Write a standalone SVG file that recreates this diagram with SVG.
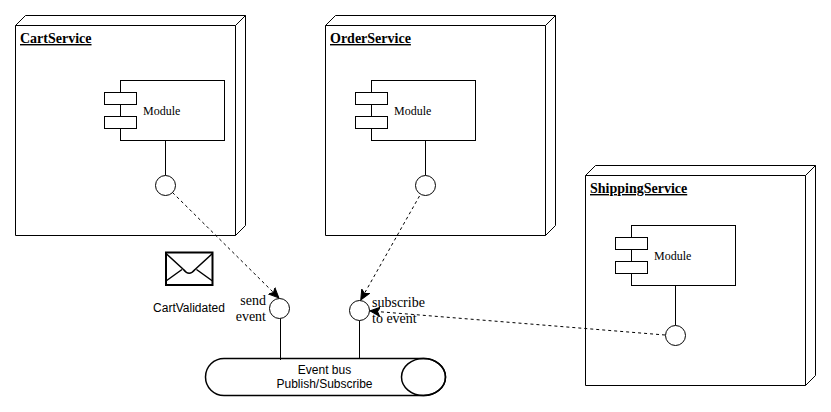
<svg xmlns="http://www.w3.org/2000/svg" width="831" height="412" viewBox="0 0 831 412">
<style>
.s{fill:#fff;stroke:#000;stroke-width:1}
.n{fill:none;stroke:#000;stroke-width:1}
.d{fill:none;stroke:#000;stroke-width:1;stroke-dasharray:3 3}
.t{font-family:"Liberation Serif",serif;font-size:14px;font-weight:bold;text-decoration:underline;fill:#000}
.m{font-family:"Liberation Serif",serif;font-size:12px;fill:#000}
.l{font-family:"Liberation Serif",serif;font-size:14px;fill:#000}
.a{font-family:"Liberation Sans",Arial,sans-serif;font-size:12px;fill:#000;text-anchor:middle}
</style>
<defs>
<marker id="arr" markerUnits="userSpaceOnUse" markerWidth="12" markerHeight="12" refX="9.500" refY="5" orient="auto">
<path d="M0 0.500L10 5L0 9.500L2.500 5Z" fill="#000" stroke="#000" stroke-width="1"/>
</marker>
<g id="node3d">
<path class="s" d="M0 10L10 0H230V210L220 220H0Z"/>
<path class="n" d="M0 10H220L230 0M220 10V220"/>
</g>
<g id="mod">
<rect class="s" x="16" y="0" width="104" height="60"/>
<rect class="s" x="0" y="12" width="32" height="12"/>
<rect class="s" x="0" y="36" width="32" height="12"/>
<text class="m" x="38.500" y="34">Module</text>
</g>
</defs>
<g id="CartService">
<use href="#node3d" x="15.500" y="15.500"/>
<text class="t" x="20" y="43">CartService</text>
<use href="#mod" x="104.500" y="80.500"/>
<path class="n" d="M165.500 140.500V175.500"/>
<circle class="s" cx="165.500" cy="185.500" r="10"/>
</g>
<g id="OrderService">
<use href="#node3d" x="325.500" y="15.500"/>
<text class="t" x="330" y="43">OrderService</text>
<use href="#mod" x="355.500" y="80.500"/>
<path class="n" d="M425.500 140.500V175.500"/>
<circle class="s" cx="425.500" cy="185.500" r="10"/>
</g>
<g id="ShippingService">
<use href="#node3d" x="585.500" y="165.500"/>
<text class="t" x="590" y="193">ShippingService</text>
<use href="#mod" x="615.500" y="225.500"/>
<path class="n" d="M675.500 285.500V325.500"/>
<circle class="s" cx="675.500" cy="335.500" r="10"/>
</g>
<g id="CartValidated">
<rect x="166" y="252.500" width="46.500" height="32.500" fill="#fff" stroke="#000" stroke-width="2"/>
<path class="n" style="stroke-width:1.500" stroke-linejoin="round" d="M166 253.500L183.500 269.500Q189 277 195 269.500L212.500 253.500M166 281L182 269.500M212.500 281L196.500 269.500"/>
<text class="a" x="189" y="312">CartValidated</text>
</g>
<g id="EventBus">
<path class="s" d="M224 358.500H423.500C435.500 358.500 445.500 366.500 445.500 377C445.500 387.500 435.500 395.500 423.500 395.500H224C214 395.500 205.500 387.500 205.500 377C205.500 366.500 214 358.500 224 358.500Z" style="stroke-width:1.500"/>
<ellipse class="n" cx="423.500" cy="377" rx="22" ry="18.500" style="stroke-width:1.500"/>
<text class="a" x="324.500" y="374">Event bus</text>
<text class="a" x="324.500" y="388">Publish/Subscribe</text>
</g>
<g id="SendEvent">
<path class="n" d="M280.500 318.500V360"/>
<circle class="s" cx="279.500" cy="308.500" r="10"/>
<text class="l" x="266" y="305" text-anchor="end">send</text>
<text class="l" x="266" y="321" text-anchor="end">event</text>
</g>
<g id="SubscribeEvent">
<path class="n" d="M359.500 320.500V358"/>
<circle class="s" cx="359.500" cy="310.500" r="10"/>
<text class="l" x="372" y="307">subscribe</text>
<text class="l" x="372" y="323">to event</text>
</g>
<g id="connectors">
<path class="d" d="M172.500 192.500L278.500 297.500" marker-end="url(#arr)"/>
<path class="d" d="M419.500 196L361 299.500" marker-end="url(#arr)"/>
<path class="d" d="M665 335L370.500 311" marker-end="url(#arr)"/>
</g>
</svg>
